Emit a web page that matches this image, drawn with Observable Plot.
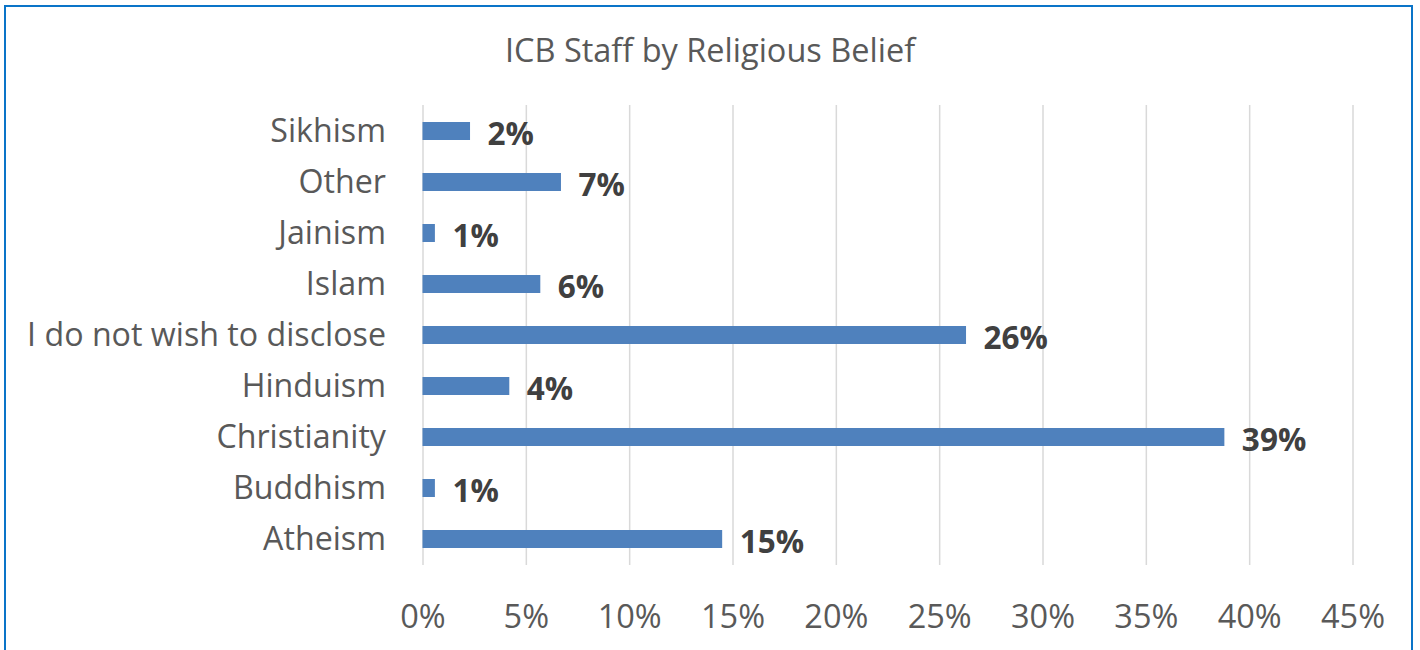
<!DOCTYPE html>
<html>
<head>
<meta charset="utf-8">
<script src="https://cdn.jsdelivr.net/npm/d3@7"></script>
<script src="https://cdn.jsdelivr.net/npm/@observablehq/plot@0.6"></script>
<style>
  html, body { margin: 0; padding: 0; background: #fff; overflow: hidden; }
  #wrap { position: relative; width: 1420px; height: 650px; overflow: hidden; }
  #frame { position: absolute; left: 4px; top: 5px; width: 1409px; height: 700px; border: 2px solid #0a74c8; box-sizing: border-box; }
  #title { position: absolute; left: 0; width: 1420px; top: 28px; text-align: center; font-family: "Open Sans", sans-serif; font-size: 32.5px; color: #595959; line-height: 44px; }
  #chart { position: absolute; left: 0; top: 0; }
</style>
</head>
<body>
<div id="wrap">
  <div id="frame"></div>
  <div id="title">ICB Staff by Religious Belief</div>
  <div id="chart"></div>
</div>
<script>
const categories = ["Sikhism", "Other", "Jainism", "Islam", "I do not wish to disclose", "Hinduism", "Christianity", "Buddhism", "Atheism"];
const values = [0.023, 0.067, 0.006, 0.057, 0.263, 0.042, 0.388, 0.006, 0.145];
const valueLabels = ["2%", "7%", "1%", "6%", "26%", "4%", "39%", "1%", "15%"];
const xTicks = [0, 0.05, 0.10, 0.15, 0.20, 0.25, 0.30, 0.35, 0.40, 0.45];
const xTickLabels = ["0%", "5%", "10%", "15%", "20%", "25%", "30%", "35%", "40%", "45%"];

const data = categories.map((c, i) => ({category: c, value: values[i], label: valueLabels[i]}));

const chart = Plot.plot({
  width: 1420,
  height: 650,
  marginLeft: 422.5,
  marginRight: 67.5,
  marginTop: 105,
  marginBottom: 85,
  style: {fontFamily: "'Open Sans', sans-serif", background: "transparent", overflow: "visible"},
  x: {domain: [0, 0.45]},
  y: {domain: categories, paddingInner: 0.65, paddingOuter: 0.325},
  marks: [
    Plot.ruleX(xTicks, {stroke: "#d9d9d9", strokeWidth: 1.5}),
    Plot.barX(data, {x: "value", y: "category", fill: "#4f81bd"}),
    Plot.text(data, {x: "value", y: "category", text: "label", textAnchor: "start", dx: 17, dy: 3, fontWeight: "bold", fontSize: 31.5, fill: "#404040"}),
    Plot.axisX({ticks: xTicks, tickFormat: d => xTickLabels[xTicks.indexOf(d)], tickSize: 0, tickPadding: 39, fontSize: 32.5, fill: "#595959", label: null}),
    Plot.axisY({tickSize: 0, tickPadding: 37, fontSize: 32.2, fill: "#595959", label: null})
  ]
});
document.getElementById("chart").appendChild(chart);
</script>
</body>
</html>
